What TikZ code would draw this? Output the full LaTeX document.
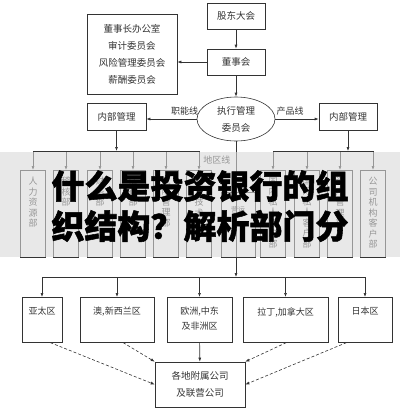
\documentclass[tikz,border=0pt]{standalone}
\usepackage{fontspec}
\setmainfont{Noto Sans CJK SC}
\newfontfamily\bigcjk[BoldFeatures={FakeBold=1.6}]{Noto Sans CJK SC}
\usetikzlibrary{arrows.meta,shapes.geometric}
\tikzset{>={Latex[width=3pt,length=4pt]}}
\tikzset{
  box/.style={draw=black!80, fill=white, line width=0.6pt, inner sep=0pt,
    font=\fontsize{9.5}{17}\selectfont, text=black!80, align=center},
  vbox/.style={box, anchor=north, minimum width=25pt, minimum height=87pt},
  rbox/.style={box, anchor=north, minimum height=45pt},
  lbl/.style={anchor=north, align=center, yshift=-7pt, inner sep=0pt,
    font=\fontsize{9}{10.5}\selectfont, text=black!80},
  tag/.style={font=\fontsize{9}{10}\selectfont, text=black!80},
  bigtxt/.style={font=\fontsize{33}{33}\selectfont\bigcjk\bfseries, inner sep=0pt},
}

\begin{document}
\begin{tikzpicture}[x=1pt,y=-1pt,line width=0.6pt,draw=black!80]
  \useasboundingbox[fill=white] (0,0) rectangle (400,410);

  % top
  \node[box, minimum width=58pt, minimum height=26pt] (gdh) at (236,16) {股东大会};
  \node[box, minimum width=58pt, minimum height=26pt] (dsh) at (236,62) {董事会};
  \node[box, minimum width=90pt, minimum height=80pt] (ban) at (132,54)
    {董事长办公室\\审计委员会\\风险管理委员会\\薪酬委员会};
  \node[box, ellipse, minimum width=78pt, minimum height=44pt] (zx) at (236,119)
    {执行管理\\委员会};
  \node[box, minimum width=59pt, minimum height=27pt] (nb1) at (116.5,116.5) {内部管理};
  \node[box, minimum width=58pt, minimum height=27pt] (nb2) at (348,116.5) {内部管理};

  \draw[->] (gdh) -- (dsh);
  \draw[->] (dsh.west) -- (dsh.west -| ban.east);
  \draw[->] (dsh) -- (zx);
  \draw[->] (zx.west) -- node[tag, above, pos=0.24]{职能线} (zx.west -| nb1.east);
  \draw[->] (zx.east) -- node[tag, above, pos=0.34]{产品线} (zx.east -| nb2.west);

  % left group
  \node[vbox, label={[lbl]north:{人\\力\\资\\源\\部}}] (hr) at (33,170) {};
  \node[vbox, label={[lbl]north:{稽\\核\\部}}] (jh) at (66,170) {};
  \node[vbox, label={[lbl]north:{财\\务\\部}}] (cw) at (100,170) {};
  \node[vbox, label={[lbl]north:{法\\律\\部}}] (fl) at (133,170) {};
  \node[vbox, label={[lbl]north:{风\\险\\管\\理\\部}}] (fx) at (166,170) {};
  \node[vbox, label={[lbl]north:{信\\息\\技\\术\\部}}] (it) at (199,170) {};

  \coordinate (lbus) at (116.5,151);
  \draw[->] (nb1) -- (lbus);
  \draw (hr |- lbus) -- (it |- lbus);
  \foreach \b in {hr,jh,cw,fl,fx,it}
    \draw[->] (\b |- lbus) -- (\b.north);

  % right group
  \node[vbox, label={[lbl]north:{国\\内\\私\\人\\客\\户\\部}}] (gn) at (273,170) {};
  \node[vbox, label={[lbl]north:{国\\际\\私\\人\\客\\户\\部}}] (gj) at (307,170) {};
  \node[vbox, label={[lbl]north:{资\\产\\管\\理\\部}}] (zc) at (340,170) {};
  \node[vbox, label={[lbl]north:{公\\司\\机\\构\\客\\户\\部}}] (gs) at (373,170) {};

  \coordinate (rbusp) at (348,151);
  \draw[->] (nb2) -- (rbusp);
  \draw (gn |- rbusp) -- (gs |- rbusp);
  \foreach \b in {gn,gj,zc,gs}
    \draw[->] (\b |- rbusp) -- (\b.north);

  % regions
  \node[box, anchor=north, minimum width=34pt, minimum height=65pt,
    label={[lbl, font=\fontsize{7}{8}\selectfont, yshift=-7pt]north:营运}] (yy) at (238,192) {};
  \coordinate (rbus) at (236,277);
  \draw[->] (zx) -- (rbus);
  \node[tag, anchor=east] (dqx) at (234,160) {地区线};

  \node[rbox, minimum width=40pt, label={[lbl, yshift=-3pt]north:亚太区}] (r1) at (42,297) {};
  \node[rbox, minimum width=74pt, label={[lbl, yshift=-3pt]north:{澳,新西兰区}}] (r2) at (117,297) {};
  \node[rbox, minimum width=65pt, label={[lbl, yshift=-3pt, font=\fontsize{9}{15}\selectfont]north:{欧洲,中东\\及非洲区}}] (r3) at (199.5,297) {};
  \node[rbox, minimum width=85pt, label={[lbl, yshift=-3pt]north:{拉丁,加拿大区}}] (r4) at (285.5,297) {};
  \node[rbox, minimum width=54pt, label={[lbl, yshift=-3pt]north:日本区}] (r5) at (365,297) {};

  \draw (r1 |- rbus) -- (r5 |- rbus);
  \foreach \r in {r1,r2,r3,r4,r5}
    \draw[->] (\r |- rbus) -- (\r.north);

  % subsidiaries
  \node[box, minimum width=90pt, minimum height=45pt] (fs) at (200,384.5)
    {各地附属公司\\及联营公司};
  \draw[->] (r3) -- (fs);
  \draw[->, densely dashed] (r1.-70) -- (fs.west);
  \draw[->, densely dashed] (r2.-75) -- (fs.north west);
  \draw[->, densely dashed] (r4.-88) -- (fs.north east);
  \draw[->, densely dashed] (r5.-129) -- (fs.east);

  % banner
  \fill[black!15, opacity=0.6] (0,152) rectangle (400,257);
  \node[bigtxt] (t1) at (200,186) {什么是投资银行的组};
  \node[bigtxt] (t2) at (200,226) {织结构？解析部门分};
\end{tikzpicture}
\end{document}
